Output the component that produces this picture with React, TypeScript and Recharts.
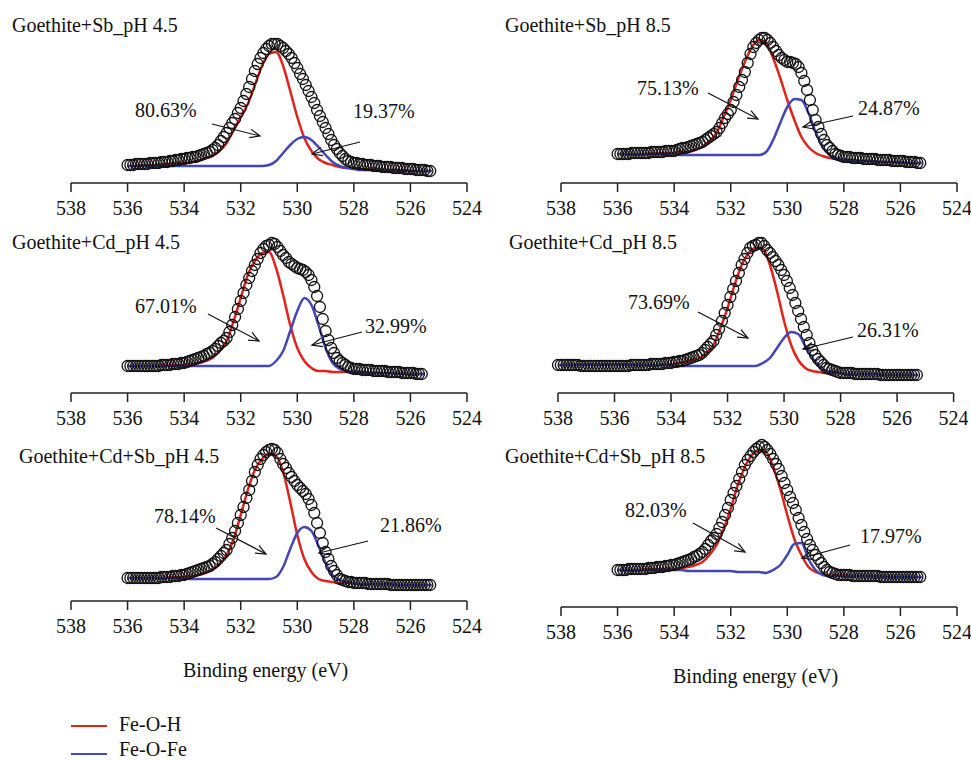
import React from "react";
import { ComposedChart, Line, Scatter, XAxis, YAxis } from "recharts";

const SERIF =
  '"Liberation Serif", "Times New Roman", Tinos, "Nimbus Roman", "Nimbus Roman No9 L", FreeSerif, "Noto Serif", "DejaVu Serif", serif';
const RED = "#e2231a";
const BLUE = "#4346b8";

const TICKS = [538, 536, 534, 532, 530, 528, 526, 524];
const CIRCLE_STEP = 0.1; // eV between measured points
const FIT_STEP = 0.25; // eV between fit samples

// Goethite+Sb pH 4.5
const SB45_DATA = [
  18, 18, 18, 19, 19, 19, 19, 19, 20, 20, 20, 20, 21, 21, 21, 22, 22, 23, 23, 24,
  24, 25, 25, 26, 26, 27, 28, 29, 30, 31, 33, 35, 38, 42, 46, 50, 55, 60, 64, 70,
  75, 82, 89, 96, 104, 112, 119, 125, 130, 134, 137, 139, 139, 139, 137, 135, 132, 129, 125, 120,
  115, 109, 104, 98, 92, 86, 80, 73, 67, 61, 55, 49, 43, 38, 34, 30, 27, 24, 22, 21,
  20, 20, 19, 19, 18, 18, 18, 17, 17, 17, 16, 16, 16, 16, 15, 15, 15, 15, 14, 14,
  14, 14, 13, 13, 13, 13, 12, 12,
];
const SB45_FEOH = [
  17, 17, 18, 18, 18, 19, 19, 20, 20, 21, 22, 25, 27, 32, 40, 53, 66, 79, 98, 117,
  129, 131, 117, 92, 66, 45, 32, 24, 20, 18, 16, 15, 15, 14, 14, 14, 13, 13, 13, 13,
  12, 12, 12, 12,
];
const SB45_FEOFE = [
  17, 17, 17, 17, 17, 17, 17, 17, 17, 17, 17, 17, 17, 17, 17, 17, 17, 17, 17, 17,
  18, 22, 30, 38, 44, 46, 43, 36, 28, 21, 17, 15, 14, 13, 13, 13, 13, 12, 12, 12,
  12, 12, 12, 12,
];

// Goethite+Sb pH 8.5
const SB85_DATA = [
  29, 29, 29, 29, 29, 30, 30, 30, 30, 30, 30, 30, 31, 31, 31, 31, 31, 32, 32, 32,
  32, 33, 34, 35, 35, 36, 37, 38, 39, 40, 41, 43, 45, 47, 49, 51, 55, 60, 65, 69,
  73, 81, 88, 96, 103, 111, 120, 129, 136, 140, 143, 145, 145, 143, 140, 136, 132, 128, 125, 123,
  121, 121, 120, 119, 116, 110, 102, 93, 83, 73, 63, 56, 49, 43, 38, 35, 32, 29, 28, 27,
  26, 26, 26, 25, 25, 25, 25, 24, 24, 24, 24, 24, 23, 23, 23, 23, 23, 22, 22, 22,
  22, 22, 21, 21, 21, 21, 20, 20,
];
const SB85_FEOH = [
  29, 29, 29, 29, 29, 30, 30, 30, 30, 31, 31, 33, 36, 42, 50, 66, 83, 103, 121, 136,
  143, 140, 125, 105, 83, 63, 46, 36, 30, 27, 25, 24, 23, 23, 22, 22, 22, 21, 21, 21,
  21, 20, 20, 20,
];
const SB85_FEOFE = [
  29, 29, 29, 29, 29, 29, 29, 29, 29, 28, 28, 28, 28, 28, 28, 28, 28, 28, 28, 28,
  28, 31, 43, 60, 76, 84, 83, 70, 51, 36, 28, 25, 23, 23, 22, 22, 22, 21, 21, 21,
  21, 20, 20, 20,
];

// Goethite+Cd pH 4.5
const CD45_DATA = [
  27, 27, 27, 27, 27, 27, 27, 27, 27, 27, 27, 27, 28, 28, 28, 28, 29, 29, 29, 30,
  30, 31, 32, 33, 34, 35, 36, 37, 39, 40, 42, 44, 47, 50, 52, 55, 61, 68, 76, 84,
  92, 100, 108, 115, 122, 128, 134, 140, 144, 147, 148, 150, 149, 146, 142, 138, 135, 131, 129, 127,
  125, 124, 123, 121, 118, 113, 106, 97, 86, 74, 62, 53, 45, 40, 35, 32, 30, 28, 26, 25,
  24, 24, 24, 23, 23, 23, 23, 22, 22, 22, 22, 22, 21, 21, 21, 21, 21, 20, 20, 20,
  20, 20, 19, 19, 19,
];
const CD45_FEOH = [
  27, 27, 27, 27, 27, 28, 28, 28, 28, 29, 30, 32, 35, 42, 52, 72, 95, 118, 132, 140,
  141, 125, 98, 68, 45, 32, 25, 22, 22, 21, 21, 21, 21, 21, 20, 20, 20, 20, 20, 20,
  19, 19, 19,
];
const CD45_FEOFE = [
  27, 27, 27, 27, 27, 27, 27, 27, 27, 27, 27, 27, 27, 27, 27, 27, 27, 27, 27, 27,
  27, 32, 42, 62, 82, 95, 88, 68, 45, 30, 24, 22, 21, 21, 20, 20, 20, 20, 20, 19,
  19, 19, 19,
];

// Goethite+Cd pH 8.5 (scan starts at 538 eV)
const CD85_DATA = [
  28, 28, 28, 28, 28, 28, 28, 28, 27, 27, 27, 27, 27, 27, 27, 27, 27, 27, 27, 27,
  27, 27, 27, 27, 27, 27, 28, 28, 28, 28, 28, 28, 28, 29, 29, 29, 29, 29, 30, 30,
  30, 31, 31, 32, 32, 33, 34, 35, 36, 37, 38, 40, 43, 46, 49, 52, 58, 64, 72, 80,
  88, 96, 104, 112, 120, 128, 134, 140, 145, 147, 148, 150, 150, 147, 143, 140, 136, 132, 128, 123,
  118, 112, 105, 98, 90, 82, 74, 66, 58, 50, 43, 38, 34, 31, 28, 25, 24, 23, 22, 21,
  20, 20, 20, 20, 20, 19, 19, 19, 19, 19, 19, 19, 19, 19, 18, 18, 18, 18, 18, 18,
  18, 18, 18, 18, 18, 18, 18, 18,
];
const CD85_FEOH = [
  28, 28, 28, 28, 28, 28, 28, 28, 28, 28, 28, 28, 28, 28, 28, 29, 29, 30, 31, 33,
  35, 40, 48, 65, 85, 108, 128, 140, 145, 144, 128, 102, 72, 48, 33, 25, 22, 21, 20, 20,
  20, 19, 19, 19, 19, 19, 18, 18, 18, 18, 18, 18,
];
const CD85_FEOFE = [
  28, 28, 28, 28, 28, 28, 28, 28, 28, 28, 28, 28, 28, 28, 28, 28, 28, 27, 27, 27,
  27, 27, 27, 27, 27, 27, 27, 27, 27, 30, 35, 45, 55, 61, 59, 47, 35, 27, 22, 21,
  20, 19, 19, 19, 19, 19, 18, 18, 18, 18, 18, 18,
];

// Goethite+Cd+Sb pH 4.5
const CDSB45_DATA = [
  23, 23, 23, 23, 23, 23, 23, 23, 23, 23, 23, 23, 24, 24, 24, 24, 25, 25, 25, 26,
  26, 27, 28, 29, 30, 31, 32, 33, 34, 35, 37, 39, 42, 45, 48, 51, 57, 63, 70, 78,
  86, 94, 103, 111, 120, 129, 136, 142, 146, 149, 151, 152, 151, 148, 142, 137, 133, 128, 124, 120,
  116, 113, 110, 107, 102, 96, 88, 78, 68, 58, 49, 42, 35, 30, 26, 22, 21, 20, 19, 19,
  18, 18, 18, 18, 18, 17, 17, 17, 17, 17, 17, 17, 17, 16, 16, 16, 16, 16, 16, 16,
  16, 16, 16, 16, 16, 16, 16, 16,
];
const CDSB45_FEOH = [
  23, 23, 23, 23, 23, 23, 24, 24, 24, 25, 26, 28, 31, 37, 46, 62, 86, 111, 131, 142,
  147, 145, 129, 99, 66, 42, 29, 22, 20, 19, 18, 18, 18, 17, 17, 17, 17, 17, 16, 16,
  16, 16, 16, 16,
];
const CDSB45_FEOFE = [
  23, 23, 23, 23, 23, 23, 23, 23, 23, 22, 22, 22, 22, 22, 22, 22, 22, 22, 22, 22,
  22, 24, 34, 52, 68, 74, 70, 55, 38, 26, 21, 19, 18, 17, 17, 17, 17, 17, 16, 16,
  16, 16, 16, 16,
];

// Goethite+Cd+Sb pH 8.5
const CDSB85_DATA = [
  37, 37, 37, 37, 38, 38, 38, 38, 38, 38, 38, 39, 39, 39, 40, 40, 40, 41, 41, 42,
  42, 43, 44, 45, 46, 47, 48, 50, 51, 53, 55, 58, 62, 66, 69, 73, 79, 85, 92, 99,
  107, 114, 121, 128, 135, 142, 147, 151, 155, 158, 160, 162, 160, 157, 153, 148, 143, 138, 131, 124,
  117, 110, 104, 97, 89, 82, 75, 68, 62, 57, 52, 48, 44, 40, 37, 35, 34, 33, 32, 32,
  32, 32, 32, 31, 31, 31, 31, 31, 31, 31, 31, 31, 31, 30, 30, 30, 30, 30, 30, 30,
  30, 30, 30, 30, 30, 30, 30, 30,
];
const CDSB85_FEOH = [
  37, 37, 37, 37, 38, 38, 38, 38, 38, 39, 40, 42, 45, 52, 62, 78, 98, 122, 140, 152,
  157, 155, 140, 118, 92, 68, 52, 40, 35, 33, 32, 32, 32, 31, 31, 31, 31, 31, 30, 30,
  30, 30, 30, 30,
];
const CDSB85_FEOFE = [
  37, 37, 37, 37, 37, 37, 37, 37, 37, 37, 36, 36, 36, 36, 36, 36, 36, 35, 35, 35,
  35, 34, 37, 42, 52, 63, 64, 48, 37, 32, 31, 31, 31, 31, 31, 31, 31, 30, 30, 30,
  30, 30, 30, 30,
];

type Pt = { e: number; v: number };
const toPoints = (start: number, step: number, values: number[]): Pt[] =>
  values.map((v, i) => ({ e: +(start - i * step).toFixed(2), v }));

type Panel = {
  title: string;
  start: number;
  data: number[];
  feoh: number[];
  feofe: number[];
  pctOH: string;
  pctFe: string;
};

const PANELS: Panel[] = [
  { title: "Goethite+Sb_pH 4.5", start: 536, data: SB45_DATA, feoh: SB45_FEOH, feofe: SB45_FEOFE, pctOH: "80.63%", pctFe: "19.37%" },
  { title: "Goethite+Sb_pH 8.5", start: 536, data: SB85_DATA, feoh: SB85_FEOH, feofe: SB85_FEOFE, pctOH: "75.13%", pctFe: "24.87%" },
  { title: "Goethite+Cd_pH 4.5", start: 536, data: CD45_DATA, feoh: CD45_FEOH, feofe: CD45_FEOFE, pctOH: "67.01%", pctFe: "32.99%" },
  { title: "Goethite+Cd_pH 8.5", start: 538, data: CD85_DATA, feoh: CD85_FEOH, feofe: CD85_FEOFE, pctOH: "73.69%", pctFe: "26.31%" },
  { title: "Goethite+Cd+Sb_pH 4.5", start: 536, data: CDSB45_DATA, feoh: CDSB45_FEOH, feofe: CDSB45_FEOFE, pctOH: "78.14%", pctFe: "21.86%" },
  { title: "Goethite+Cd+Sb_pH 8.5", start: 536, data: CDSB85_DATA, feoh: CDSB85_FEOH, feofe: CDSB85_FEOFE, pctOH: "82.03%", pctFe: "17.97%" },
];

// page placement of each panel (pixels)
const LAYOUT = [
  { left: 70.7, right: 466.7, axisY: 183, title: [12, 32], ohText: [135, 117], feText: [353, 118], ohArrow: [212, 124, 260, 136], feArrow: [360, 142, 312, 154] },
  { left: 560.7, right: 956.7, axisY: 183, title: [505, 32], ohText: [637, 95], feText: [858, 115], ohArrow: [708, 93, 758, 119], feArrow: [853, 116, 803, 127] },
  { left: 70.7, right: 466.7, axisY: 393.3, title: [12, 249], ohText: [135, 313], feText: [365, 333], ohArrow: [208, 314, 259, 341], feArrow: [362, 332, 312, 345] },
  { left: 557.7, right: 953.3, axisY: 393.3, title: [509, 249], ohText: [628, 309], feText: [857, 337], ohArrow: [698, 312, 748, 338], feArrow: [853, 337, 803, 349] },
  { left: 70.7, right: 466.7, axisY: 600.7, title: [19, 463], ohText: [154, 523], feText: [380, 532], ohArrow: [216, 528, 266, 554], feArrow: [368, 541, 319, 553] },
  { left: 560.7, right: 956.7, axisY: 606.7, title: [505, 463], ohText: [625, 517], feText: [860, 543], ohArrow: [693, 523, 745, 552], feArrow: [850, 545, 802, 558] },
];

const PLOT_H = 170;
const M = { top: 10, left: 15, right: 15 };
const X_H = 40;

const ring = (props: any) => (
  <circle cx={props.cx} cy={props.cy} r={5.5} fill="none" stroke="#111" strokeWidth={1.3} />
);

function SpectrumPanel({ p, l }: { p: Panel; l: (typeof LAYOUT)[number] }) {
  const plotW = l.right - l.left;
  return (
    <div style={{ position: "absolute", left: l.left - M.left, top: l.axisY - PLOT_H - M.top }}>
      <ComposedChart
        width={plotW + M.left + M.right}
        height={M.top + PLOT_H + X_H}
        margin={{ top: M.top, right: M.right, bottom: 0, left: M.left }}
        style={{ fontFamily: SERIF }}
      >
        <XAxis
          type="number"
          dataKey="e"
          domain={[524, 538]}
          reversed
          ticks={TICKS}
          interval={0}
          height={X_H}
          tickSize={9}
          tickMargin={9}
          axisLine={{ stroke: "#222", strokeWidth: 1.5 }}
          tickLine={{ stroke: "#222", strokeWidth: 1.5 }}
          tick={{ fill: "#111", fontSize: 20, style: { fontFamily: SERIF } }}
        />
        <YAxis hide type="number" dataKey="v" domain={[0, PLOT_H]} />
        <Scatter data={toPoints(p.start, CIRCLE_STEP, p.data)} shape={ring} isAnimationActive={false} />
        <Line
          data={toPoints(p.start, FIT_STEP, p.feoh)}
          dataKey="v"
          type="monotone"
          stroke={RED}
          strokeWidth={2.5}
          dot={false}
          isAnimationActive={false}
        />
        <Line
          data={toPoints(p.start, FIT_STEP, p.feofe)}
          dataKey="v"
          type="monotone"
          stroke={BLUE}
          strokeWidth={2.5}
          dot={false}
          isAnimationActive={false}
        />
      </ComposedChart>
    </div>
  );
}

function Arrow({ a }: { a: number[] }) {
  const [x1, y1, x2, y2] = a;
  const ang = Math.atan2(y2 - y1, x2 - x1);
  const len = 11;
  const sp = 0.4;
  const hx1 = x2 - len * Math.cos(ang - sp);
  const hy1 = y2 - len * Math.sin(ang - sp);
  const hx2 = x2 - len * Math.cos(ang + sp);
  const hy2 = y2 - len * Math.sin(ang + sp);
  return (
    <g stroke="#111" strokeWidth={1.2} fill="none">
      <line x1={x1} y1={y1} x2={x2} y2={y2} />
      <polyline points={`${hx1},${hy1} ${x2},${y2} ${hx2},${hy2}`} />
    </g>
  );
}

export default function App() {
  return (
    <div
      style={{
        position: "absolute",
        left: 0,
        top: 0,
        width: 971,
        height: 761,
        background: "#fff",
        overflow: "hidden",
        fontFamily: SERIF,
      }}
    >
      {PANELS.map((p, i) => (
        <SpectrumPanel key={p.title} p={p} l={LAYOUT[i]} />
      ))}
      <svg
        width={971}
        height={761}
        style={{ position: "absolute", left: 0, top: 0, pointerEvents: "none", fontFamily: SERIF, fontSize: 20 }}
        fill="#111"
      >
        {PANELS.map((p, i) => {
          const l = LAYOUT[i];
          return (
            <g key={p.title}>
              <text x={l.title[0]} y={l.title[1]}>{p.title}</text>
              <text x={l.ohText[0]} y={l.ohText[1]}>{p.pctOH}</text>
              <text x={l.feText[0]} y={l.feText[1]}>{p.pctFe}</text>
              <Arrow a={l.ohArrow} />
              <Arrow a={l.feArrow} />
            </g>
          );
        })}
        <text x={183} y={677}>Binding energy (eV)</text>
        <text x={673} y={683}>Binding energy (eV)</text>
        <line x1={71} y1={726} x2={107} y2={726} stroke={RED} strokeWidth={1.8} />
        <text x={119} y={731}>Fe-O-H</text>
        <line x1={71} y1={754} x2={107} y2={754} stroke={BLUE} strokeWidth={1.8} />
        <text x={119} y={756}>Fe-O-Fe</text>
      </svg>
    </div>
  );
}
